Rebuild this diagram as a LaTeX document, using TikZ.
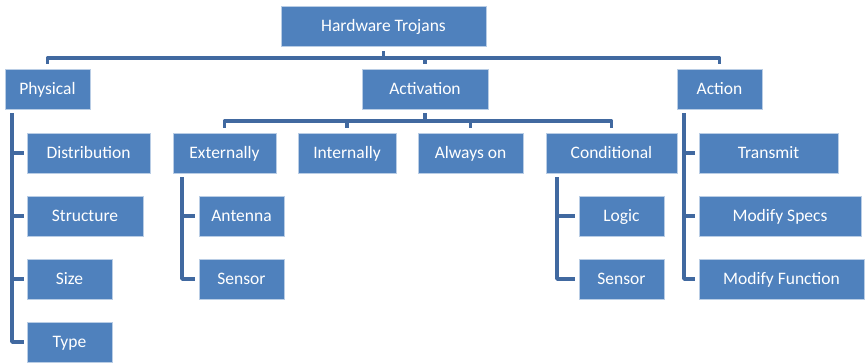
\documentclass[tikz,border=0pt]{standalone}
\usepackage{fontspec}
\setmainfont{Carlito}
\definecolor{boxfill}{HTML}{4F81BD}
\definecolor{boxline}{HTML}{B9CDE5}
\definecolor{conncol}{HTML}{4169A0}
\begin{document}
\begin{tikzpicture}[x=1pt,y=-1pt,
  box/.style={rectangle, fill=boxfill, draw=boxline, line width=0.8pt, minimum height=40pt, inner sep=0pt, text height=13pt, text depth=3pt, text=white, font=\fontsize{17.5}{20}\selectfont},
  conn/.style={draw=conncol, line width=3.6pt, line join=round, line cap=butt}]
\useasboundingbox (0,0) rectangle (865,362);
% level 0/1
\node[box, minimum width=205pt] (ht) at (383.5,26) {Hardware Trojans};
\node[box, minimum width=85pt] (phys) at (47.5,89) {Physical};
\node[box, minimum width=126pt] (act) at (425,89) {Activation};
\node[box, minimum width=85pt] (action) at (719.5,89) {Action};
% row 2
\node[box, minimum width=123pt] (dist) at (88.5,153) {Distribution};
\node[box, minimum width=103pt] (ext) at (224.5,153) {Externally};
\node[box, minimum width=98pt] (int) at (347,153) {Internally};
\node[box, minimum width=105pt] (alw) at (470.5,153) {Always on};
\node[box, minimum width=131pt] (cond) at (611.5,153) {Conditional};
\node[box, minimum width=139pt] (trans) at (768.5,153) {Transmit};
% row 3
\node[box, minimum width=116pt] (struct) at (85,216) {Structure};
\node[box, minimum width=85pt] (ant) at (241.5,216) {Antenna};
\node[box, minimum width=85pt] (logic) at (621.5,216) {Logic};
\node[box, minimum width=162pt] (mspec) at (780,216) {Modify Specs};
% row 4
\node[box, minimum width=85pt] (size) at (69.5,279) {Size};
\node[box, minimum width=85pt] (sensA) at (241.5,279) {Sensor};
\node[box, minimum width=85pt] (sensB) at (621.5,279) {Sensor};
\node[box, minimum width=165pt] (mfunc) at (781.5,279) {Modify Function};
% row 5
\node[box, minimum width=85pt] (type) at (69.5,342) {Type};

% top bus
\coordinate (bus1) at (0,58);
\draw[conn] ([yshift=-5pt]ht.south) -- (ht.south |- bus1);
\draw[conn] ([yshift=5pt]phys.north) -- (phys.north |- bus1) -- (action.north |- bus1) -- ([yshift=5pt]action.north);
\draw[conn] (act.north |- bus1) -- ([yshift=5pt]act.north);

% activation bus
\coordinate (bus2) at (0,121);
\draw[conn] ([yshift=-4pt]act.south) -- (act.south |- bus2);
\draw[conn] ([yshift=5pt]ext.north) -- (ext.north |- bus2) -- (cond.north |- bus2) -- ([yshift=5pt]cond.north);
\draw[conn] (int.north |- bus2) -- ([yshift=5pt]int.north);
\draw[conn] (alw.north |- bus2) -- ([yshift=5pt]alw.north);

% physical tree
\coordinate (pv) at (12,113);
\draw[conn] (pv) |- ([xshift=-3pt]type.west);
\draw[conn] (pv |- dist.west) -- ([xshift=-3pt]dist.west);
\draw[conn] (pv |- struct.west) -- ([xshift=-3pt]struct.west);
\draw[conn] (pv |- size.west) -- ([xshift=-3pt]size.west);

% externally tree
\coordinate (ev) at (182,177);
\draw[conn] (ev) |- ([xshift=-4pt]sensA.west);
\draw[conn] (ev |- ant.west) -- ([xshift=-4pt]ant.west);

% conditional tree
\coordinate (cv) at (557,177);
\draw[conn] (cv) |- ([xshift=-4pt]sensB.west);
\draw[conn] (cv |- logic.west) -- ([xshift=-4pt]logic.west);

% action tree
\coordinate (av) at (684,113);
\draw[conn] (av) |- ([xshift=-4pt]mfunc.west);
\draw[conn] (av |- trans.west) -- ([xshift=-4pt]trans.west);
\draw[conn] (av |- mspec.west) -- ([xshift=-4pt]mspec.west);
\end{tikzpicture}
\end{document}
